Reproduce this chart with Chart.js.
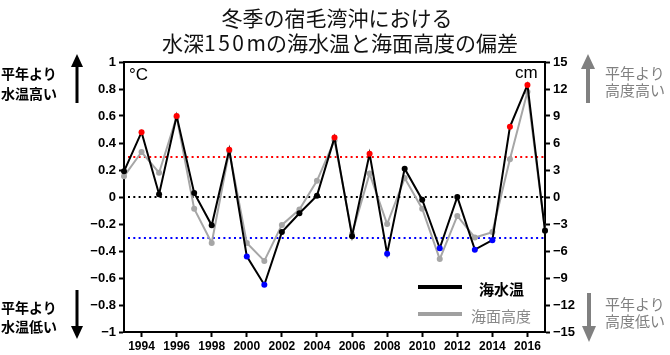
<!DOCTYPE html>
<html><head><meta charset="utf-8">
<script src="https://cdn.jsdelivr.net/npm/chart.js@4.4.0/dist/chart.umd.min.js"></script>
<style>
body{margin:0;background:#fff;}
#wrap{position:relative;width:670px;height:355px;overflow:hidden;font-family:"Noto Sans CJK JP","Noto Sans",sans-serif;}
canvas{position:absolute;left:0;top:0;}
.t{position:absolute;white-space:nowrap;line-height:1;}
svg{position:absolute;left:0;top:0;}
</style></head><body>
<div id="wrap">
<canvas id="c" width="670" height="355"></canvas>
<svg width="670" height="355">
  <rect x="75.5" y="65" width="3" height="38" fill="#000"/>
  <polygon points="71,67 83,67 77,54" fill="#000"/>
  <rect x="75.5" y="290" width="3" height="37" fill="#000"/>
  <polygon points="71,326 83,326 77,339" fill="#000"/>
  <rect x="586" y="66" width="4" height="37" fill="#808080"/>
  <polygon points="581,69 595,69 588,54" fill="#808080"/>
  <rect x="587" y="293" width="4" height="35" fill="#808080"/>
  <polygon points="582,326 596,326 589,342" fill="#808080"/>
</svg>
<div class="t" style="left:0;width:674px;text-align:center;top:7px;font-size:21px;color:#111;">冬季の宿毛湾沖における</div>
<div class="t" style="left:0;width:680px;text-align:center;top:32px;font-size:21px;color:#111;">水深<span style="letter-spacing:2.5px">150</span>mの海水温と海面高度の偏差</div>
<div class="t" style="left:1px;top:66px;font-size:14px;font-weight:bold;color:#000;">平年より</div>
<div class="t" style="left:1px;top:86px;font-size:14px;font-weight:bold;color:#000;">水温高い</div>
<div class="t" style="left:1px;top:300px;font-size:14px;font-weight:bold;color:#000;">平年より</div>
<div class="t" style="left:1px;top:319px;font-size:14px;font-weight:bold;color:#000;">水温低い</div>
<div class="t" style="left:605px;top:65px;font-size:15px;color:#808080;">平年より</div>
<div class="t" style="left:605px;top:82px;font-size:15px;color:#808080;">高度高い</div>
<div class="t" style="left:605px;top:296px;font-size:15px;color:#808080;">平年より</div>
<div class="t" style="left:605px;top:313px;font-size:15px;color:#808080;">高度低い</div>
<div class="t" style="left:129px;top:66px;font-size:17px;font-family:'Liberation Sans',Arial,sans-serif;color:#000;">°C</div>
<div class="t" style="left:515px;top:64px;font-size:17px;font-family:'Liberation Sans',Arial,sans-serif;color:#000;">cm</div>
<div style="position:absolute;left:418px;top:285px;width:44px;height:4px;background:#000;"></div>
<div style="position:absolute;left:418px;top:312px;width:44px;height:4px;background:#a0a0a0;"></div>
<div class="t" style="left:479px;top:281px;font-size:15px;font-weight:bold;color:#000;">海水温</div>
<div class="t" style="left:471px;top:308px;font-size:15px;color:#888;">海面高度</div>
</div>
<script>
const years = [1993,1994,1995,1996,1997,1998,1999,2000,2001,2002,2003,2004,2005,2006,2007,2008,2009,2010,2011,2012,2013,2014,2015,2016,2017];
const waterTemp = [0.19,0.48,0.02,0.60,0.03,-0.21,0.35,-0.44,-0.65,-0.26,-0.12,0.01,0.44,-0.29,0.32,-0.42,0.21,-0.02,-0.38,0.00,-0.39,-0.32,0.52,0.83,-0.25];
const seaLevel = [2.3,5.0,2.7,8.9,-1.3,-5.1,5.1,-5.1,-7.1,-3.1,-1.4,1.8,6.3,-4.1,2.6,-3.0,2.1,-1.3,-6.9,-2.1,-4.5,-3.9,4.2,11.7,-3.7];
const leftTicks = [1,0.8,0.6,0.4,0.2,0,-0.2,-0.4,-0.6,-0.8,-1];
const rightTicks = [15,12,9,6,3,0,-3,-6,-9,-12,-15];
const thresholds = [0.3,0,-0.3];
const thresholdColors = ['#ff0000','#000000','#0000ff'];

function markColor(v){ return v > 0.3 ? '#ff0000' : (v < -0.3 ? '#0000ff' : '#000000'); }
function fmt(v){ const s = String(Math.round(v*10)/10); return s.replace('-','\u2212'); }

const framePlugin = {
  id:'frame',
  beforeDatasetsDraw(chart){
    const {ctx, chartArea:a, scales} = chart;
    ctx.save();
    ctx.lineWidth = 2;
    ctx.setLineDash([2,3.3]);
    thresholds.forEach((t,i)=>{
      const y = Math.round(scales.y.getPixelForValue(t));
      ctx.strokeStyle = thresholdColors[i];
      ctx.beginPath(); ctx.moveTo(a.left+4, y); ctx.lineTo(a.right, y); ctx.stroke();
    });
    ctx.restore();
  },
  afterDraw(chart){
    const {ctx, chartArea:a} = chart;
    ctx.save();
    ctx.strokeStyle = '#000'; ctx.lineWidth = 2;
    ctx.beginPath(); ctx.moveTo(a.left-1, a.top); ctx.lineTo(a.right+1, a.top); ctx.stroke();
    ctx.restore();
  }
};

const tickFont = {family:"'Liberation Sans', Arial, sans-serif", size:13, weight:'bold'};

new Chart(document.getElementById('c'), {
  type:'line',
  data:{
    labels: years.map(String),
    datasets:[
      {label:'海水温', data: waterTemp, yAxisID:'y', borderColor:'#000', borderWidth:2, tension:0,
       pointRadius:3, pointBorderWidth:0, pointBackgroundColor: c => markColor(c.raw), pointBorderColor: c => markColor(c.raw)},
      {label:'海面高度', data: seaLevel, yAxisID:'y2', borderColor:'#a6a6a6', borderWidth:2, tension:0,
       pointRadius:3, pointBorderWidth:0, pointBackgroundColor:'#a6a6a6', pointBorderColor:'#a6a6a6'}
    ]
  },
  options:{
    responsive:false, animation:false, devicePixelRatio:1,
    layout:{padding:{top:62,left:0,right:0,bottom:0}},
    plugins:{legend:{display:false}, tooltip:{enabled:false}, title:{display:false}},
    scales:{
      x:{type:'category', offset:false,
         grid:{drawOnChartArea:false, tickLength:5, tickWidth:2, tickColor: c => (years[c.index] % 2 === 0 ? '#000' : 'rgba(0,0,0,0)')},
         border:{color:'#000', width:2},
         ticks:{autoSkip:false, maxRotation:0, minRotation:0, padding:2, color:'#000',
                font:{family:"'Liberation Sans', Arial, sans-serif", size:12, weight:'bold'},
                callback:(v,i)=> (years[i] % 2 === 0 ? String(years[i]) : '')},
         afterFit: s => { s.height = 23; }},
      y:{position:'left', min:-1, max:1,
         afterBuildTicks: s => { s.ticks = leftTicks.map(v=>({value:v})); },
         grid:{drawOnChartArea:false, tickLength:5, tickWidth:2, tickColor:'#000'},
         border:{color:'#000', width:2},
         ticks:{color:'#000', font:tickFont, padding:3, callback: v => fmt(v)},
         afterFit: s => { s.width = 124; }},
      y2:{position:'right', min:-15, max:15,
         afterBuildTicks: s => { s.ticks = rightTicks.map(v=>({value:v})); },
         grid:{drawOnChartArea:false, tickLength:5, tickWidth:2, tickColor:'#000'},
         border:{color:'#000', width:2},
         ticks:{color:'#000', font:tickFont, padding:3, callback: v => String(v).replace('-','\u2212')},
         afterFit: s => { s.width = 125; }}
    }
  },
  plugins:[framePlugin]
});
</script>
</body></html>
